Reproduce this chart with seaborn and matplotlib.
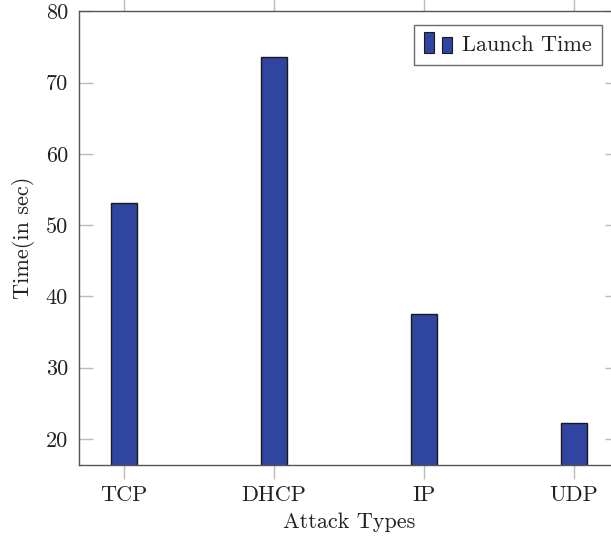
import matplotlib
matplotlib.use("Agg")
import matplotlib.pyplot as plt
import seaborn as sns
import pandas as pd
from matplotlib.legend_handler import HandlerBase
from matplotlib.patches import Rectangle

categories = ["TCP", "DHCP", "IP", "UDP"]
launch_time = [53.1, 73.6, 37.6, 22.2]
yticks = [20, 30, 40, 50, 60, 70, 80]

sns.set_theme(style="white")
plt.rcParams['font.family'] = ['cmr10', 'DejaVu Serif']
plt.rcParams['mathtext.fontset'] = 'cm'
plt.rcParams['axes.formatter.use_mathtext'] = True

df = pd.DataFrame({"Attack": categories, "Time": launch_time})

fig = plt.figure(figsize=(6.11, 5.40), dpi=100)
ax = fig.add_axes([79/611, 1-465/540, (619-79)/611, (465-11.3)/540])

bar_color = "#2f45a0"
sns.barplot(data=df, x="Attack", y="Time", ax=ax, color=bar_color,
            edgecolor="#1a1a1a", linewidth=1.0, width=0.17, saturation=1)

FS = 16
ax.set_xlim(-0.3, 3.3)
ax.set_ylim(16.35, 80)
ax.set_yticks(yticks)
ax.set_yticklabels([str(v) for v in yticks])
ax.set_xlabel("Attack Types", fontsize=FS, labelpad=5, color="#222222")
ax.set_ylabel("Time(in sec)", fontsize=FS, labelpad=8, color="#222222")

for s in ax.spines.values():
    s.set_color("#555555")
    s.set_linewidth(1.0)
    s.set_visible(True)

ax.tick_params(axis='x', which='both', direction='out', length=10, width=1,
               color="#bbbbbb", top=True, bottom=True, labelsize=FS, pad=5,
               labelcolor="#222222")
ax.tick_params(axis='y', which='both', direction='in', length=10, width=1,
               color="#bbbbbb", left=True, right=True, labelsize=FS, pad=8,
               labelcolor="#222222")


class TwoBarHandler(HandlerBase):
    def create_artists(self, legend, orig_handle, xdescent, ydescent,
                       width, height, fontsize, trans):
        w = width * 0.3
        r1 = Rectangle((xdescent + width * 0.0, -ydescent - height * 0.15), w, height * 1.35,
                       facecolor=bar_color, edgecolor="#1a1a1a", lw=0.8, transform=trans)
        r2 = Rectangle((xdescent + width * 0.55, -ydescent - height * 0.15), w, height * 1.05,
                       facecolor=bar_color, edgecolor="#1a1a1a", lw=0.8, transform=trans)
        return [r1, r2]


handle = Rectangle((0, 0), 1, 1, facecolor=bar_color)
leg = ax.legend([handle], ["Launch Time"], handler_map={Rectangle: TwoBarHandler()},
                loc="upper right", bbox_to_anchor=(602/611, 1-25/540),
                bbox_transform=fig.transFigure, borderaxespad=0, frameon=True,
                fancybox=False, fontsize=FS, handlelength=1.45, handletextpad=0.25,
                borderpad=0.45)
leg.get_frame().set_edgecolor("#444444")
leg.get_frame().set_linewidth(1.0)
for t in leg.get_texts():
    t.set_color("#222222")

fig.savefig("out.png", dpi=100)
